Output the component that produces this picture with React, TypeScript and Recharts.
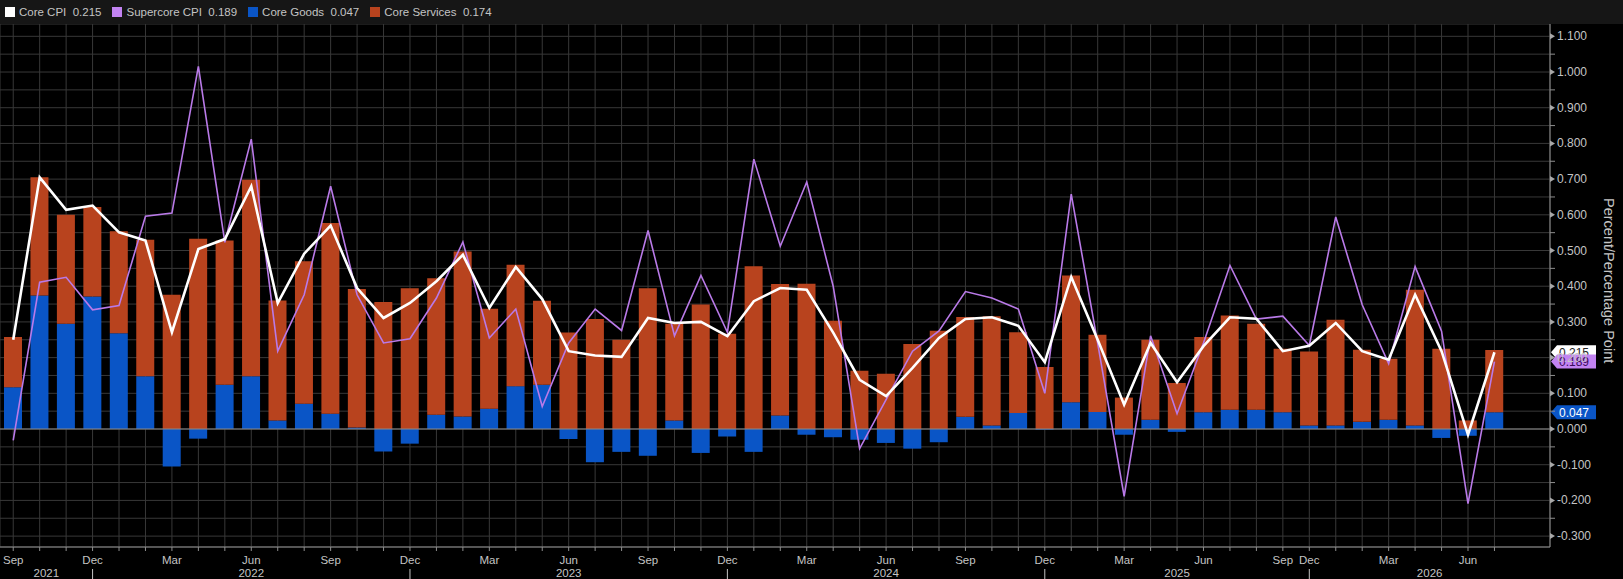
import React from 'react';
import { ComposedChart, Bar, Line, XAxis, YAxis, CartesianGrid, ReferenceLine } from 'recharts';

// monthly points, Oct/Nov 2025 are missing in the source so Sep 2025 -> Dec 2025
const months = [
  'Sep', 'Oct', 'Nov', 'Dec',
  'Jan', 'Feb', 'Mar', 'Apr', 'May', 'Jun', 'Jul', 'Aug', 'Sep', 'Oct', 'Nov', 'Dec',
  'Jan', 'Feb', 'Mar', 'Apr', 'May', 'Jun', 'Jul', 'Aug', 'Sep', 'Oct', 'Nov', 'Dec',
  'Jan', 'Feb', 'Mar', 'Apr', 'May', 'Jun', 'Jul', 'Aug', 'Sep', 'Oct', 'Nov', 'Dec',
  'Jan', 'Feb', 'Mar', 'Apr', 'May', 'Jun', 'Jul', 'Aug', 'Sep', 'Dec',
  'Jan', 'Feb', 'Mar', 'Apr', 'May', 'Jun', 'Jul',
];

const yearLabels = ['2021', '2022', '2023', '2024', '2025', '2026'];

const coreGoods = [
  0.117, 0.374, 0.295, 0.371, 0.268, 0.148, -0.105, -0.027, 0.124, 0.148,
  0.024, 0.071, 0.043, 0.004, -0.063, -0.041, 0.040, 0.035, 0.057, 0.120,
  0.124, -0.028, -0.093, -0.064, -0.075, 0.024, -0.067, -0.021, -0.064, 0.038,
  -0.016, -0.023, -0.030, -0.039, -0.055, -0.037, 0.034, 0.010, 0.045, -0.002,
  0.075, 0.048, -0.016, 0.026, -0.008, 0.047, 0.054, 0.054, 0.047, 0.010,
  0.010, 0.020, 0.026, 0.010, -0.025, -0.019, 0.047,
];

const coreServices = [
  0.141, 0.331, 0.305, 0.251, 0.286, 0.382, 0.376, 0.533, 0.404, 0.550,
  0.336, 0.399, 0.534, 0.388, 0.356, 0.394, 0.382, 0.462, 0.280, 0.340,
  0.235, 0.270, 0.308, 0.250, 0.394, 0.271, 0.349, 0.267, 0.456, 0.368,
  0.407, 0.303, 0.163, 0.155, 0.238, 0.275, 0.280, 0.306, 0.226, 0.174,
  0.355, 0.216, 0.088, 0.224, 0.129, 0.211, 0.264, 0.241, 0.178, 0.207,
  0.296, 0.202, 0.171, 0.380, 0.225, 0.024, 0.174,
];

const coreCpi = [
  0.250, 0.705, 0.614, 0.626, 0.551, 0.528, 0.271, 0.504, 0.532, 0.680,
  0.353, 0.491, 0.570, 0.395, 0.311, 0.353, 0.414, 0.488, 0.339, 0.454,
  0.364, 0.218, 0.206, 0.202, 0.311, 0.297, 0.300, 0.260, 0.358, 0.395,
  0.390, 0.270, 0.138, 0.092, 0.171, 0.255, 0.308, 0.313, 0.289, 0.187,
  0.426, 0.250, 0.068, 0.241, 0.131, 0.232, 0.313, 0.309, 0.218, 0.233,
  0.297, 0.218, 0.194, 0.376, 0.218, -0.016, 0.215,
];

const supercoreCpi = [
  -0.032, 0.411, 0.425, 0.334, 0.346, 0.596, 0.605, 1.016, 0.523, 0.812,
  0.218, 0.376, 0.680, 0.376, 0.241, 0.253, 0.367, 0.524, 0.255, 0.336,
  0.063, 0.241, 0.336, 0.276, 0.556, 0.261, 0.430, 0.271, 0.756, 0.512,
  0.692, 0.400, -0.055, 0.082, 0.218, 0.275, 0.385, 0.367, 0.336, 0.100,
  0.658, 0.240, -0.189, 0.261, 0.043, 0.241, 0.458, 0.308, 0.316, 0.234,
  0.594, 0.348, 0.183, 0.455, 0.274, -0.209, 0.189,
];

const yTicks = [
  -0.3, -0.25, -0.2, -0.15, -0.1, -0.05, 0, 0.05, 0.1, 0.15, 0.2, 0.25, 0.3, 0.35, 0.4,
  0.45, 0.5, 0.55, 0.6, 0.65, 0.7, 0.75, 0.8, 0.85, 0.9, 0.95, 1.0, 1.05, 1.1,
];

const COLORS = {
  cpi: '#ffffff',
  supercore: '#b97ae8',
  goods: '#0a55c6',
  services: '#b8431e',
  grid: '#383838',
  axis: '#8e8e8e',
  text: '#c4c4c4',
};

const X_MIN = -0.5;
const X_MAX = 58.1;

const data = months.map((m, i) => ({
  idx: i,
  month: m,
  goods: coreGoods[i],
  services: coreServices[i],
  cpi: coreCpi[i],
  supercore: supercoreCpi[i],
}));

const monthTicks = data.map((d) => d.idx);
const decIdx = months.map((m, i) => (m === 'Dec' ? i : -1)).filter((i) => i >= 0);
const yearBounds = [X_MIN, ...decIdx, X_MAX];
const yearTicks = yearLabels.map((_, k) => (yearBounds[k] + yearBounds[k + 1]) / 2);

const last = data.length - 1;

const MonthTick = ({ x, y, payload }: any) => {
  const m = months[Math.round(payload.value)];
  const show = m === 'Mar' || m === 'Jun' || m === 'Sep' || m === 'Dec';
  return (
    <g>
      {show && (
        <text x={x} y={y + 13} textAnchor="middle" fill={COLORS.text} fontSize={11.5}>
          {m}
        </text>
      )}
      {m === 'Dec' && <line x1={x} x2={x} y1={y + 18} y2={y + 29} stroke={COLORS.text} strokeWidth={1} />}
    </g>
  );
};

const YearTick = ({ x, y, payload }: any) => {
  const k = yearTicks.indexOf(payload.value);
  return (
    <text x={x} y={y + 14} textAnchor="middle" fill={COLORS.text} fontSize={11.5}>
      {yearLabels[k]}
    </text>
  );
};

const ValueTick = ({ x, y, payload }: any) => {
  const v = payload.value;
  const major = Math.abs(v * 10 - Math.round(v * 10)) < 1e-6;
  if (!major) {
    return <line x1={x} x2={x + 5} y1={y} y2={y} stroke={COLORS.axis} />;
  }
  return (
    <g>
      <polygon points={`${x},${y - 3} ${x + 5},${y} ${x},${y + 3}`} fill="#a8a8a8" />
      <text x={x + 7} y={y + 4} fill={COLORS.text} fontSize={12}>
        {v.toFixed(3)}
      </text>
    </g>
  );
};

// last-value tag on the right axis
const tagLabel = (text: string, fill: string, color: string) => (props: any) => {
  const { viewBox } = props;
  const x0 = viewBox.x + viewBox.width + 1;
  const y = viewBox.y;
  return (
    <g>
      <polygon
        points={`${x0},${y} ${x0 + 6},${y - 7} ${x0 + 45},${y - 7} ${x0 + 45},${y + 7} ${x0 + 6},${y + 7}`}
        fill={fill}
      />
      <text x={x0 + 8} y={y + 4.5} fill={color} fontSize={12}>
        {text}
      </text>
    </g>
  );
};

const legendItems = [
  { name: 'Core CPI', value: coreCpi[last], color: COLORS.cpi },
  { name: 'Supercore CPI', value: supercoreCpi[last], color: '#c283f2' },
  { name: 'Core Goods', value: coreGoods[last], color: COLORS.goods },
  { name: 'Core Services', value: coreServices[last], color: COLORS.services },
];

export default function App() {
  return (
    <div
      style={{
        position: 'absolute',
        left: 0,
        top: 0,
        width: 1623,
        height: 579,
        background: '#000',
        overflow: 'hidden',
        fontFamily: '"Liberation Sans", Arial, sans-serif',
      }}
    >
      <div style={{ height: 24, background: '#161616', display: 'flex', alignItems: 'center', paddingLeft: 5 }}>
        {legendItems.map((it) => (
          <div key={it.name} style={{ display: 'flex', alignItems: 'center', marginRight: 11 }}>
            <div style={{ width: 10, height: 10, background: it.color, marginRight: 4 }} />
            <span style={{ color: COLORS.text, fontSize: 11.5 }}>
              {it.name}&nbsp;&nbsp;{it.value.toFixed(3)}
            </span>
          </div>
        ))}
      </div>
      <div
        style={{
          position: 'absolute',
          left: 1601,
          top: 198,
          writingMode: 'vertical-rl',
          color: COLORS.text,
          fontSize: 14.5,
        }}
      >
        Percent/Percentage Point
      </div>
      <ComposedChart
        width={1623}
        height={555}
        data={data}
        stackOffset="sign"
        margin={{ top: 0, right: 0, bottom: 0, left: 0 }}
      >
        <CartesianGrid stroke={COLORS.grid} strokeWidth={1} />
        <XAxis
          dataKey="idx"
          type="number"
          domain={[X_MIN, X_MAX]}
          ticks={monthTicks}
          interval={0}
          height={16}
          tickSize={4}
          tickMargin={0}
          tick={<MonthTick />}
          axisLine={{ stroke: COLORS.axis }}
          tickLine={{ stroke: COLORS.axis }}
        />
        <XAxis
          xAxisId="yr"
          dataKey="idx"
          type="number"
          domain={[X_MIN, X_MAX]}
          ticks={yearTicks}
          interval={0}
          height={16}
          tickSize={0}
          tickMargin={0}
          tick={<YearTick />}
          axisLine={false}
          tickLine={false}
        />
        <YAxis
          orientation="right"
          domain={[-0.3305, 1.1345]}
          ticks={yTicks}
          interval={0}
          width={73}
          tickSize={0}
          tickMargin={0}
          tick={<ValueTick />}
          axisLine={{ stroke: COLORS.axis }}
          tickLine={false}
        />
        <ReferenceLine y={0} stroke="#8a8a8a" />
        <Bar dataKey="goods" stackId="c" fill={COLORS.goods} barSize={18} isAnimationActive={false} />
        <Bar dataKey="services" stackId="c" fill={COLORS.services} barSize={18} isAnimationActive={false} />
        <Line
          type="linear"
          dataKey="supercore"
          stroke={COLORS.supercore}
          strokeWidth={1.6}
          dot={false}
          isAnimationActive={false}
        />
        <Line
          type="linear"
          dataKey="cpi"
          stroke={COLORS.cpi}
          strokeWidth={2.6}
          dot={false}
          isAnimationActive={false}
        />
        <ReferenceLine y={coreCpi[last]} stroke="none" label={tagLabel(coreCpi[last].toFixed(3), '#ffffff', '#222')} />
        <ReferenceLine
          y={supercoreCpi[last]}
          stroke="none"
          label={tagLabel(supercoreCpi[last].toFixed(3), '#c283f2', '#3a0c5c')}
        />
        <ReferenceLine y={coreGoods[last]} stroke="none" label={tagLabel(coreGoods[last].toFixed(3), COLORS.goods, '#fff')} />
      </ComposedChart>
    </div>
  );
}
